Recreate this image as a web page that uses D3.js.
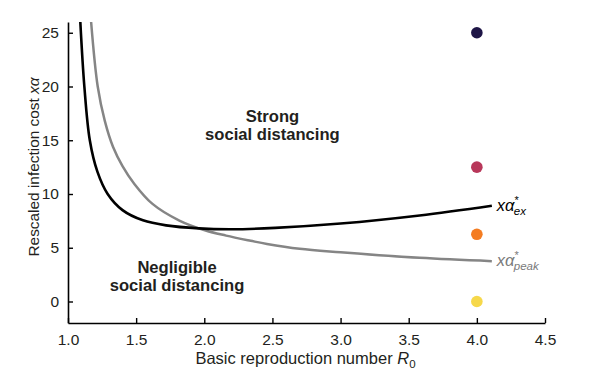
<!DOCTYPE html>
<html>
<head>
<meta charset="utf-8">
<script src="https://cdn.jsdelivr.net/npm/d3@7"></script>
<style>
  body { margin: 0; background: #fff; }
  text { font-family: "Liberation Sans", Arial, Helvetica, sans-serif; fill: #231f20; }
</style>
</head>
<body>
<div id="chart"></div>
<script>
// values
let r0Ex = [1.090, 1.12, 1.16, 1.215, 1.291, 1.40, 1.55, 1.72, 1.96, 2.2, 2.52, 3.0, 3.58, 4.11];
let xaEx = [26.1, 20, 15, 12.1, 10, 8.5, 7.55, 7.08, 6.8, 6.72, 6.85, 7.25, 8.0, 8.9];

let r0Peak = [1.169, 1.218, 1.27, 1.33, 1.40, 1.487, 1.62, 1.817, 2.01, 2.16, 2.34, 2.46, 2.70, 3.0, 3.58, 4.11];
let xaPeak = [26.1, 20, 16.8, 14.4, 12.6, 10.94, 9.08, 7.53, 6.6, 6.13, 5.65, 5.35, 4.9, 4.58, 4.06, 3.75];

let dotR0 = 4.0;
let dotValues = [25, 12.5, 6.25, 0];
let dotColors = ["#1e1546", "#b8375a", "#f47c21", "#f6d84a"];

let xTicks = [1.0, 1.5, 2.0, 2.5, 3.0, 3.5, 4.0, 4.5];
let yTicks = [0, 5, 10, 15, 20, 25];

let svg = d3.select("#chart").append("svg")
  .attr("width", 601)
  .attr("height", 376);

let margin = {top: 22, right: 56, bottom: 53, left: 68};
let width = 601 - margin.left - margin.right;
let height = 376 - margin.top - margin.bottom;

let g = svg.append("g")
  .attr("transform", "translate(" + margin.left + "," + margin.top + ")");

let x = d3.scaleLinear().domain([1.0, 4.5]).range([0, width]);
let y = d3.scaleLinear().domain([-2, 26]).range([height, 0]);

g.append("clipPath").attr("id", "clip")
  .append("rect").attr("x", 0).attr("y", 0).attr("width", width).attr("height", height);

let line = d3.line()
  .x(function(d) { return x(d[0]); })
  .y(function(d) { return y(d[1]); })
  .curve(d3.curveCatmullRom.alpha(0.5));

let exData = r0Ex.map(function(r, i) { return [r, xaEx[i]]; });
let peakData = r0Peak.map(function(r, i) { return [r, xaPeak[i]]; });

g.append("path")
  .datum(peakData)
  .attr("clip-path", "url(#clip)")
  .attr("d", line)
  .attr("fill", "none")
  .attr("stroke", "#858585")
  .attr("stroke-width", 2.5);

g.append("path")
  .datum(exData)
  .attr("clip-path", "url(#clip)")
  .attr("d", line)
  .attr("fill", "none")
  .attr("stroke", "#000")
  .attr("stroke-width", 2.6);

// markers at R0 = 4
g.selectAll("circle.dot")
  .data(dotValues)
  .enter().append("circle")
  .attr("class", "dot")
  .attr("cx", x(dotR0))
  .attr("cy", function(d) { return y(d); })
  .attr("r", 5.8)
  .attr("fill", function(d, i) { return dotColors[i]; });

// axes
let xAxis = d3.axisBottom(x).tickValues(xTicks)
  .tickFormat(d3.format(".1f"))
  .tickSizeInner(-5).tickSizeOuter(0).tickPadding(9);

let yAxis = d3.axisLeft(y).tickValues(yTicks)
  .tickSizeInner(-5).tickSizeOuter(0).tickPadding(9);

let gx = g.append("g")
  .attr("transform", "translate(0," + height + ")")
  .call(xAxis);

let gy = g.append("g").call(yAxis);

[gx, gy].forEach(function(a) {
  a.select(".domain").attr("stroke", "#000").attr("stroke-width", 1.6);
  a.selectAll(".tick line").attr("stroke", "#000").attr("stroke-width", 1.4);
  a.selectAll(".tick text")
    .attr("font-size", 15.5)
    .attr("font-family", null)
    .attr("fill", "#231f20");
});
gx.selectAll(".tick text").attr("dy", "0.85em");

// axis titles
let xt = svg.append("text")
  .attr("x", margin.left + width / 2 - 1)
  .attr("y", 364)
  .attr("text-anchor", "middle")
  .attr("font-size", 16.5);
xt.append("tspan").text("Basic reproduction number ");
xt.append("tspan").attr("font-style", "italic").text("R");
xt.append("tspan").attr("font-size", 11.5).attr("dy", 4).text("0");

let yt = svg.append("text")
  .attr("transform", "translate(39," + 167 + ") rotate(-90)")
  .attr("text-anchor", "middle")
  .attr("font-size", 15.4);
yt.append("tspan").text("Rescaled infection cost ");
yt.append("tspan").attr("font-style", "italic").text("x\u03b1");

// region labels
function regionLabel(cx, lines, y0) {
  let t = g.append("text")
    .attr("text-anchor", "middle")
    .attr("font-size", 16.6)
    .attr("font-weight", "bold");
  lines.forEach(function(s, i) {
    t.append("tspan").attr("x", cx).attr("y", y0 + i * 17.5).text(s);
  });
}
regionLabel(x(2.5), ["Strong", "social distancing"], 122 - margin.top);
regionLabel(x(1.8), ["Negligible", "social distancing"], 273 - margin.top);

// curve labels
function curveLabel(yv, sub, color) {
  let t = g.append("text")
    .attr("x", x(4.11) + 5)
    .attr("y", y(yv) + 5)
    .attr("font-size", 16.5)
    .attr("font-style", "italic")
    .style("fill", color);
  t.append("tspan").text("x\u03b1");
  t.append("tspan").attr("font-size", 11).attr("dy", -7).attr("font-style", "normal").text("*");
  t.append("tspan").attr("font-size", 11.5).attr("dx", -5).attr("dy", 11).text(sub);
}
curveLabel(xaEx[xaEx.length - 1], "ex", "#000");
curveLabel(xaPeak[xaPeak.length - 1], "peak", "#7a7a7a");
</script>
</body>
</html>
